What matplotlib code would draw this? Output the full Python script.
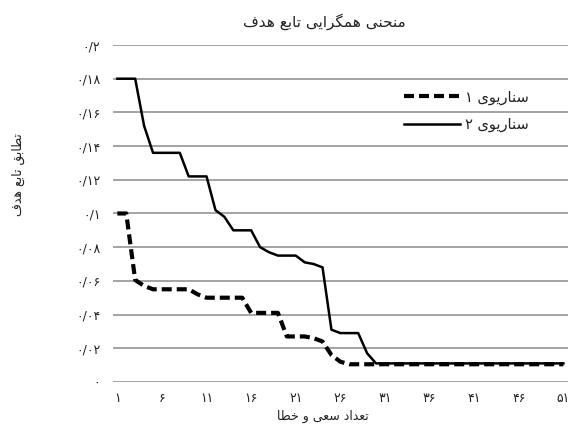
import matplotlib
matplotlib.use("Agg")
import matplotlib.pyplot as plt
import numpy as np

# شکل‌دهی ساده حروف فارسی (matplotlib خودش حروف را نمی‌چسباند)
FORMS = {
    'ا': ('\uFE8D', '\uFE8E', None, None),
    'ب': ('\uFE8F', '\uFE90', '\uFE91', '\uFE92'),
    'ت': ('\uFE95', '\uFE96', '\uFE97', '\uFE98'),
    'ح': ('\uFEA1', '\uFEA2', '\uFEA3', '\uFEA4'),
    'خ': ('\uFEA5', '\uFEA6', '\uFEA7', '\uFEA8'),
    'د': ('\uFEA9', '\uFEAA', None, None),
    'ر': ('\uFEAD', '\uFEAE', None, None),
    'س': ('\uFEB1', '\uFEB2', '\uFEB3', '\uFEB4'),
    'ط': ('\uFEC1', '\uFEC2', '\uFEC3', '\uFEC4'),
    'ع': ('\uFEC9', '\uFECA', '\uFECB', '\uFECC'),
    'ف': ('\uFED1', '\uFED2', '\uFED3', '\uFED4'),
    'ق': ('\uFED5', '\uFED6', '\uFED7', '\uFED8'),
    'م': ('\uFEE1', '\uFEE2', '\uFEE3', '\uFEE4'),
    'ن': ('\uFEE5', '\uFEE6', '\uFEE7', '\uFEE8'),
    'ه': ('\uFEE9', '\uFEEA', '\uFEEB', '\uFEEC'),
    'و': ('\uFEED', '\uFEEE', None, None),
    'ی': ('\uFBFC', '\uFBFD', '\uFBFE', '\uFBFF'),
    'گ': ('\uFB92', '\uFB93', '\uFB94', '\uFB95'),
}


def rtl(text):
    out = []
    for i, c in enumerate(text):
        if c not in FORMS:
            out.append(c)
            continue
        prev = text[i - 1] if i > 0 else ''
        nxt = text[i + 1] if i + 1 < len(text) else ''
        join_prev = prev in FORMS and FORMS[prev][2] is not None
        join_next = FORMS[c][2] is not None and nxt in FORMS
        iso, fin, ini, med = FORMS[c]
        if join_prev and join_next:
            out.append(med)
        elif join_prev:
            out.append(fin)
        elif join_next:
            out.append(ini)
        else:
            out.append(iso)
    return ''.join(out)[::-1]


# داده‌ها
trials = list(range(1, 52))
scenario1 = [0.1, 0.1, 0.0605, 0.057, 0.055, 0.055, 0.055, 0.055, 0.055, 0.052,
             0.050, 0.050, 0.050, 0.050, 0.050, 0.041, 0.041, 0.041, 0.041, 0.027,
             0.027, 0.027, 0.026, 0.024, 0.016, 0.012, 0.0105, 0.0105, 0.0105, 0.0105,
             0.0105, 0.0105, 0.0105, 0.0105, 0.0105, 0.0105, 0.0105, 0.0105, 0.0105, 0.0105,
             0.0105, 0.0105, 0.0105, 0.0105, 0.0105, 0.0105, 0.0105, 0.0105, 0.0105, 0.0105,
             0.0105]
scenario2 = [0.18, 0.18, 0.18, 0.152, 0.136, 0.136, 0.136, 0.136, 0.122, 0.122,
             0.122, 0.102, 0.098, 0.090, 0.090, 0.090, 0.080, 0.077, 0.075, 0.075,
             0.075, 0.071, 0.070, 0.068, 0.031, 0.029, 0.029, 0.029, 0.017, 0.011,
             0.011, 0.011, 0.011, 0.011, 0.011, 0.011, 0.011, 0.011, 0.011, 0.011,
             0.011, 0.011, 0.011, 0.011, 0.011, 0.011, 0.011, 0.011, 0.011, 0.011,
             0.011]

y_ticks = [0, 0.02, 0.04, 0.06, 0.08, 0.1, 0.12, 0.14, 0.16, 0.18, 0.2]
y_labels = ['۰', '۰/۰۲', '۰/۰۴', '۰/۰۶', '۰/۰۸', '۰/۱', '۰/۱۲', '۰/۱۴', '۰/۱۶', '۰/۱۸', '۰/۲']
x_ticks = [1, 6, 11, 16, 21, 26, 31, 36, 41, 46, 51]
x_labels = ['۱', '۶', '۱۱', '۱۶', '۲۱', '۲۶', '۳۱', '۳۶', '۴۱', '۴۶', '۵۱']

title = 'منحنی همگرایی تابع هدف'
xlabel = 'تعداد سعی و خطا'
ylabel = 'تطابق تابع هدف'
name1 = '۱ ' + rtl('سناریوی')
name2 = '۲ ' + rtl('سناریوی')

plt.rcParams['font.family'] = ['DejaVu Sans']
txt = '#222222'

fig = plt.figure(figsize=(5.73, 4.37), dpi=100)
ax = fig.add_axes([0.197, 0.126, 0.794, 0.771])

ax.plot(trials, scenario2, color='black', lw=1.8, label=name2)
ax.plot(trials, scenario1, color='black', lw=3, linestyle=(0, (2.4, 1.2)), label=name1)

ax.set_xlim(0.5, 51.5)
ax.set_ylim(0, 0.2)
ax.set_yticks(y_ticks)
ax.set_yticklabels(y_labels)
ax.set_xticks(x_ticks)
ax.set_xticklabels(x_labels)
ax.tick_params(length=0, labelsize=9, colors=txt, pad=9)
ax.tick_params(axis='x', pad=7)
ax.yaxis.grid(True, color='#939393', lw=1.2)
ax.set_axisbelow(True)
for s in ax.spines.values():
    s.set_visible(False)

fig.text(0.566, 0.950, rtl(title), ha='center', va='center', fontsize=11, color=txt)
fig.text(0.564, 0.048, rtl(xlabel), ha='center', va='center', fontsize=9, color=txt)
fig.text(0.032, 0.60, rtl(ylabel), ha='center', va='center', fontsize=9, color=txt, rotation=90)

h, l = ax.get_legend_handles_labels()
ax.legend(h[::-1], l[::-1], loc='upper left', bbox_to_anchor=(0.683, 0.825),
          bbox_transform=fig.transFigure, frameon=False, fontsize=10.5,
          handlelength=3.8, handletextpad=0.35, labelspacing=0.85,
          labelcolor=txt)

fig.savefig('out.png', dpi=100)
